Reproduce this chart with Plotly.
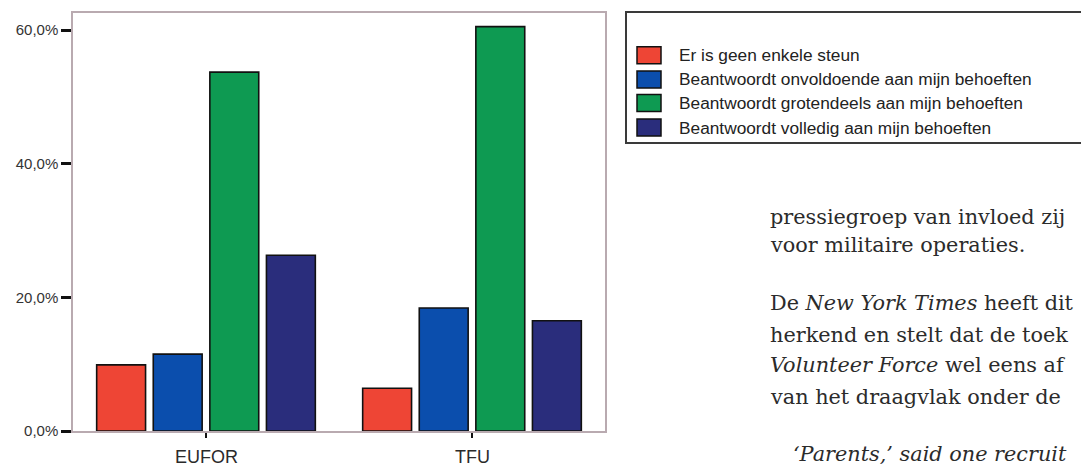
import plotly.graph_objects as go

# ---- data ----
categories = ["EUFOR", "TFU"]
series_names = [
    "Er is geen enkele steun",
    "Beantwoordt onvoldoende aan mijn behoeften",
    "Beantwoordt grotendeels aan mijn behoeften",
    "Beantwoordt volledig aan mijn behoeften",
]
geen_steun = [9.9, 6.4]
onvoldoende = [11.5, 18.4]
grotendeels = [53.7, 60.5]
volledig = [26.3, 16.5]
series_values = [geen_steun, onvoldoende, grotendeels, volledig]
colors = ["#EE4535", "#0B4EAD", "#0E9A52", "#2A2D7C"]
y_tickvals = [0, 20, 40, 60]
y_ticktext = ["0,0%", "20,0%", "40,0%", "60,0%"]

body_lines = [
    ("pressiegroep van invloed zij", False),
    ("voor militaire operaties.", False),
    ("De <i>New York Times</i> heeft dit", False),
    ("herkend en stelt dat de toek", False),
    ("<i>Volunteer Force</i> wel eens af", False),
    ("van het draagvlak onder de", False),
    ("<i>‘Parents,’ said one recruit</i>", True),
]

# ---- layout geometry ----
W, H = 1081, 467
L, R, T, B = 73, 605, 13, 431


def px_x(px):
    return (px - L) / (R - L)


def px_y(py):
    return (B - py) / (B - T)


fig = go.Figure()
for name, vals, col in zip(series_names, series_values, colors):
    fig.add_trace(go.Bar(
        x=categories, y=vals, name=name,
        marker=dict(color=col, line=dict(color="#111111", width=1.6)),
        showlegend=False,
    ))

frame_col = "#b9aab0"
fig.update_layout(
    width=W, height=H,
    margin=dict(l=L, r=W - R, t=T, b=H - B, pad=0),
    paper_bgcolor="white", plot_bgcolor="white",
    barmode="group", bargap=0.149, bargroupgap=0.136,
    font=dict(family="Liberation Sans, Arial, sans-serif", color="#2a2a2a"),
    xaxis=dict(
        range=[-0.5, 1.5], showgrid=False, zeroline=False,
        showline=True, linecolor=frame_col, linewidth=1.5, mirror=True,
        ticks="outside", ticklen=5, tickwidth=2, tickcolor="#111111",
        showticklabels=False,
    ),
    yaxis=dict(
        range=[0, (B - T) / ((B - 30) / 60)], showgrid=False, zeroline=False,
        showline=True, linecolor=frame_col, linewidth=1.5, mirror=True,
        ticks="outside", ticklen=10, tickwidth=3, tickcolor="#111111",
        tickvals=y_tickvals, ticktext=y_ticktext,
        tickfont=dict(size=15, color="#333333"),
    ),
)

annotations = []
# category labels under the groups
for cat in categories:
    annotations.append(dict(xref="x", yref="paper", x=cat, y=px_y(456.5),
                            xanchor="center", yanchor="middle", showarrow=False,
                            text=cat, font=dict(size=18, color="#2a2a2a")))

# ---- legend box (drawn manually to match the original layout) ----
shapes = [dict(type="rect", xref="paper", yref="paper",
               x0=px_x(626), x1=px_x(1200), y0=px_y(143), y1=px_y(12),
               line=dict(color="#3a3a3a", width=2), fillcolor="rgba(0,0,0,0)")]
row_centers = [55.3, 79.5, 103.0, 127.5]
for name, col, cy in zip(series_names, colors, row_centers):
    shapes.append(dict(type="rect", xref="paper", yref="paper",
                       x0=px_x(637), x1=px_x(661), y0=px_y(cy + 8.5), y1=px_y(cy - 8.5),
                       line=dict(color="#111111", width=1.5), fillcolor=col))
    annotations.append(dict(xref="paper", yref="paper", x=px_x(677), y=px_y(cy),
                            xanchor="left", yanchor="middle", showarrow=False,
                            text=name, font=dict(size=17.3, color="#222222",
                                                 family="Liberation Sans, Arial, sans-serif")))

# ---- body text of the page ----
baselines = [224, 252, 310, 342, 372, 404, 461]
for (txt, indent), bl in zip(body_lines, baselines):
    annotations.append(dict(xref="paper", yref="paper",
                            x=px_x(791 if indent else 768), y=px_y(bl - 7.2),
                            xanchor="left", yanchor="middle", showarrow=False,
                            text=txt, font=dict(size=20.8, color="#2b2b2b",
                                                family="DejaVu Serif, serif")))

fig.update_layout(shapes=shapes, annotations=annotations)
fig.write_html("out.html",
               config={"displayModeBar": False},
               post_script="document.body.style.margin='0';document.body.style.overflow='hidden';")
